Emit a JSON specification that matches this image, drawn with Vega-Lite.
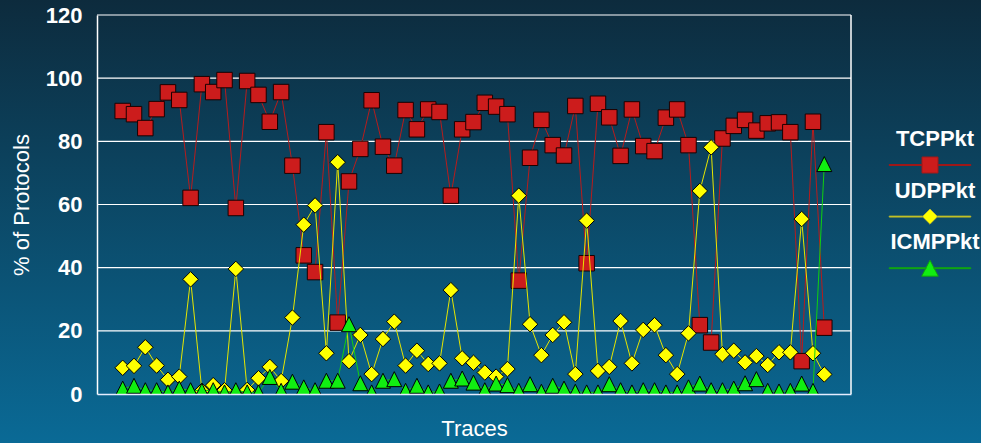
{
  "$schema": "https://vega.github.io/schema/vega-lite/v6.json",
  "width": 754,
  "height": 379,
  "autosize": {"type": "none"},
  "padding": {"left": 97, "top": 15, "right": 130, "bottom": 49},
  "background": "#0b4a6a",
  "config": {
    "font": "Liberation Sans",
    "view": {"stroke": null, "fill": null},
    "axisX": {"labels": false, "ticks": false, "grid": false, "domain": true, "domainColor": "#e6ecff", "domainWidth": 1.5,
      "titleColor": "#ffffff", "titleFont": "Liberation Sans", "titleFontSize": 22, "titleFontWeight": "normal", "titlePadding": 24},
    "axisY": {"grid": false, "ticks": false, "tickSize": 0, "domain": true, "domainColor": "#ffffff", "domainWidth": 1.5, "labelOverlap": false, "labelFlush": false,
      "labelColor": "#ffffff", "labelFont": "Liberation Sans", "labelFontSize": 22, "labelFontWeight": "bold", "labelPadding": 15,
      "titleColor": "#ffffff", "titleFont": "Liberation Sans", "titleFontSize": 22, "titleFontWeight": "normal", "titlePadding": 12}
  },
  "datasets": {
    "protocols": [
      {"trace":1,"series":"TCPPkt","pct":89.6},{"trace":2,"series":"TCPPkt","pct":88.6},{"trace":3,"series":"TCPPkt","pct":84.2},{"trace":4,"series":"TCPPkt","pct":90.2},{"trace":5,"series":"TCPPkt","pct":95.5},{"trace":6,"series":"TCPPkt","pct":93.1},{"trace":7,"series":"TCPPkt","pct":62.1},{"trace":8,"series":"TCPPkt","pct":98.1},{"trace":9,"series":"TCPPkt","pct":95.6},{"trace":10,"series":"TCPPkt","pct":99.4},
      {"trace":11,"series":"TCPPkt","pct":58.9},{"trace":12,"series":"TCPPkt","pct":99.1},{"trace":13,"series":"TCPPkt","pct":94.7},{"trace":14,"series":"TCPPkt","pct":86.2},{"trace":15,"series":"TCPPkt","pct":95.6},{"trace":16,"series":"TCPPkt","pct":72.3},{"trace":17,"series":"TCPPkt","pct":43.9},{"trace":18,"series":"TCPPkt","pct":38.6},{"trace":19,"series":"TCPPkt","pct":82.9},{"trace":20,"series":"TCPPkt","pct":22.6},
      {"trace":21,"series":"TCPPkt","pct":67.3},{"trace":22,"series":"TCPPkt","pct":77.6},{"trace":23,"series":"TCPPkt","pct":93.0},{"trace":24,"series":"TCPPkt","pct":78.3},{"trace":25,"series":"TCPPkt","pct":72.3},{"trace":26,"series":"TCPPkt","pct":89.9},{"trace":27,"series":"TCPPkt","pct":83.8},{"trace":28,"series":"TCPPkt","pct":90.1},{"trace":29,"series":"TCPPkt","pct":89.3},{"trace":30,"series":"TCPPkt","pct":62.8},
      {"trace":31,"series":"TCPPkt","pct":83.8},{"trace":32,"series":"TCPPkt","pct":86.1},{"trace":33,"series":"TCPPkt","pct":92.2},{"trace":34,"series":"TCPPkt","pct":91.0},{"trace":35,"series":"TCPPkt","pct":88.6},{"trace":36,"series":"TCPPkt","pct":35.9},{"trace":37,"series":"TCPPkt","pct":74.8},{"trace":38,"series":"TCPPkt","pct":86.8},{"trace":39,"series":"TCPPkt","pct":78.8},{"trace":40,"series":"TCPPkt","pct":75.5},
      {"trace":41,"series":"TCPPkt","pct":91.2},{"trace":42,"series":"TCPPkt","pct":41.4},{"trace":43,"series":"TCPPkt","pct":91.9},{"trace":44,"series":"TCPPkt","pct":87.6},{"trace":45,"series":"TCPPkt","pct":75.4},{"trace":46,"series":"TCPPkt","pct":90.1},{"trace":47,"series":"TCPPkt","pct":78.5},{"trace":48,"series":"TCPPkt","pct":76.9},{"trace":49,"series":"TCPPkt","pct":87.5},{"trace":50,"series":"TCPPkt","pct":90.1},
      {"trace":51,"series":"TCPPkt","pct":78.8},{"trace":52,"series":"TCPPkt","pct":21.8},{"trace":53,"series":"TCPPkt","pct":16.3},{"trace":54,"series":"TCPPkt","pct":80.9},{"trace":55,"series":"TCPPkt","pct":84.9},{"trace":56,"series":"TCPPkt","pct":86.8},{"trace":57,"series":"TCPPkt","pct":83.4},{"trace":58,"series":"TCPPkt","pct":85.7},{"trace":59,"series":"TCPPkt","pct":86.0},{"trace":60,"series":"TCPPkt","pct":82.9},
      {"trace":61,"series":"TCPPkt","pct":10.4},{"trace":62,"series":"TCPPkt","pct":86.2},{"trace":63,"series":"TCPPkt","pct":21.0},
      {"trace":1,"series":"UDPPkt","pct":8.3},{"trace":2,"series":"UDPPkt","pct":8.9},{"trace":3,"series":"UDPPkt","pct":14.8},{"trace":4,"series":"UDPPkt","pct":9.0},{"trace":5,"series":"UDPPkt","pct":4.5},{"trace":6,"series":"UDPPkt","pct":5.5},{"trace":7,"series":"UDPPkt","pct":36.3},{"trace":8,"series":"UDPPkt","pct":1.0},{"trace":9,"series":"UDPPkt","pct":2.8},{"trace":10,"series":"UDPPkt","pct":1.2},
      {"trace":11,"series":"UDPPkt","pct":39.6},{"trace":12,"series":"UDPPkt","pct":1.3},{"trace":13,"series":"UDPPkt","pct":5.0},{"trace":14,"series":"UDPPkt","pct":8.6},{"trace":15,"series":"UDPPkt","pct":4.1},{"trace":16,"series":"UDPPkt","pct":24.2},{"trace":17,"series":"UDPPkt","pct":53.6},{"trace":18,"series":"UDPPkt","pct":59.7},{"trace":19,"series":"UDPPkt","pct":12.9},{"trace":20,"series":"UDPPkt","pct":73.4},
      {"trace":21,"series":"UDPPkt","pct":10.4},{"trace":22,"series":"UDPPkt","pct":18.7},{"trace":23,"series":"UDPPkt","pct":6.3},{"trace":24,"series":"UDPPkt","pct":17.4},{"trace":25,"series":"UDPPkt","pct":22.9},{"trace":26,"series":"UDPPkt","pct":9.0},{"trace":27,"series":"UDPPkt","pct":13.7},{"trace":28,"series":"UDPPkt","pct":9.5},{"trace":29,"series":"UDPPkt","pct":9.7},{"trace":30,"series":"UDPPkt","pct":32.9},
      {"trace":31,"series":"UDPPkt","pct":11.3},{"trace":32,"series":"UDPPkt","pct":9.9},{"trace":33,"series":"UDPPkt","pct":6.8},{"trace":34,"series":"UDPPkt","pct":5.5},{"trace":35,"series":"UDPPkt","pct":7.9},{"trace":36,"series":"UDPPkt","pct":62.8},{"trace":37,"series":"UDPPkt","pct":22.1},{"trace":38,"series":"UDPPkt","pct":12.3},{"trace":39,"series":"UDPPkt","pct":18.7},{"trace":40,"series":"UDPPkt","pct":22.7},
      {"trace":41,"series":"UDPPkt","pct":6.3},{"trace":42,"series":"UDPPkt","pct":54.9},{"trace":43,"series":"UDPPkt","pct":7.3},{"trace":44,"series":"UDPPkt","pct":8.6},{"trace":45,"series":"UDPPkt","pct":23.1},{"trace":46,"series":"UDPPkt","pct":9.7},{"trace":47,"series":"UDPPkt","pct":20.3},{"trace":48,"series":"UDPPkt","pct":21.8},{"trace":49,"series":"UDPPkt","pct":12.3},{"trace":50,"series":"UDPPkt","pct":6.3},
      {"trace":51,"series":"UDPPkt","pct":19.2},{"trace":52,"series":"UDPPkt","pct":64.3},{"trace":53,"series":"UDPPkt","pct":78.1},{"trace":54,"series":"UDPPkt","pct":12.6},{"trace":55,"series":"UDPPkt","pct":13.7},{"trace":56,"series":"UDPPkt","pct":10.0},{"trace":57,"series":"UDPPkt","pct":12.0},{"trace":58,"series":"UDPPkt","pct":9.2},{"trace":59,"series":"UDPPkt","pct":13.2},{"trace":60,"series":"UDPPkt","pct":13.2},
      {"trace":61,"series":"UDPPkt","pct":55.4},{"trace":62,"series":"UDPPkt","pct":12.9},{"trace":63,"series":"UDPPkt","pct":6.2},
      {"trace":1,"series":"ICMPPkt","pct":1.7},{"trace":2,"series":"ICMPPkt","pct":2.6},{"trace":3,"series":"ICMPPkt","pct":1.2},{"trace":4,"series":"ICMPPkt","pct":1.2},{"trace":5,"series":"ICMPPkt","pct":0.5},{"trace":6,"series":"ICMPPkt","pct":1.7},{"trace":7,"series":"ICMPPkt","pct":1.2},{"trace":8,"series":"ICMPPkt","pct":1.0},{"trace":9,"series":"ICMPPkt","pct":1.2},{"trace":10,"series":"ICMPPkt","pct":0.5},
      {"trace":11,"series":"ICMPPkt","pct":1.2},{"trace":12,"series":"ICMPPkt","pct":0.5},{"trace":13,"series":"ICMPPkt","pct":0.5},{"trace":14,"series":"ICMPPkt","pct":5.4},{"trace":15,"series":"ICMPPkt","pct":1.0},{"trace":16,"series":"ICMPPkt","pct":3.9},{"trace":17,"series":"ICMPPkt","pct":2.1},{"trace":18,"series":"ICMPPkt","pct":1.2},{"trace":19,"series":"ICMPPkt","pct":4.2},{"trace":20,"series":"ICMPPkt","pct":4.2},
      {"trace":21,"series":"ICMPPkt","pct":22.1},{"trace":22,"series":"ICMPPkt","pct":3.4},{"trace":23,"series":"ICMPPkt","pct":0.5},{"trace":24,"series":"ICMPPkt","pct":4.2},{"trace":25,"series":"ICMPPkt","pct":4.7},{"trace":26,"series":"ICMPPkt","pct":1.0},{"trace":27,"series":"ICMPPkt","pct":2.6},{"trace":28,"series":"ICMPPkt","pct":0.5},{"trace":29,"series":"ICMPPkt","pct":0.8},{"trace":30,"series":"ICMPPkt","pct":4.2},
      {"trace":31,"series":"ICMPPkt","pct":4.9},{"trace":32,"series":"ICMPPkt","pct":3.6},{"trace":33,"series":"ICMPPkt","pct":1.2},{"trace":34,"series":"ICMPPkt","pct":3.3},{"trace":35,"series":"ICMPPkt","pct":2.8},{"trace":36,"series":"ICMPPkt","pct":1.0},{"trace":37,"series":"ICMPPkt","pct":3.1},{"trace":38,"series":"ICMPPkt","pct":0.7},{"trace":39,"series":"ICMPPkt","pct":2.6},{"trace":40,"series":"ICMPPkt","pct":1.7},
      {"trace":41,"series":"ICMPPkt","pct":0.7},{"trace":42,"series":"ICMPPkt","pct":0.5},{"trace":43,"series":"ICMPPkt","pct":0.5},{"trace":44,"series":"ICMPPkt","pct":3.1},{"trace":45,"series":"ICMPPkt","pct":1.2},{"trace":46,"series":"ICMPPkt","pct":0.5},{"trace":47,"series":"ICMPPkt","pct":1.2},{"trace":48,"series":"ICMPPkt","pct":1.2},{"trace":49,"series":"ICMPPkt","pct":0.5},{"trace":50,"series":"ICMPPkt","pct":0.5},
      {"trace":51,"series":"ICMPPkt","pct":2.1},{"trace":52,"series":"ICMPPkt","pct":3.3},{"trace":53,"series":"ICMPPkt","pct":1.2},{"trace":54,"series":"ICMPPkt","pct":1.2},{"trace":55,"series":"ICMPPkt","pct":1.7},{"trace":56,"series":"ICMPPkt","pct":3.4},{"trace":57,"series":"ICMPPkt","pct":4.7},{"trace":58,"series":"ICMPPkt","pct":1.0},{"trace":59,"series":"ICMPPkt","pct":0.8},{"trace":60,"series":"ICMPPkt","pct":1.0},
      {"trace":61,"series":"ICMPPkt","pct":3.3},{"trace":62,"series":"ICMPPkt","pct":1.0},{"trace":63,"series":"ICMPPkt","pct":72.8}
    ]
  },
  "layer": [
    {
      "data": {"values": [{}]},
      "mark": {
        "type": "rect",
        "fill": {"gradient": "linear", "x1": 0, "y1": 0, "x2": 0, "y2": 1,
          "stops": [{"offset": 0, "color": "#0d2b3d"}, {"offset": 1, "color": "#0a6a96"}]}
      },
      "encoding": {
        "x": {"datum": -9.9, "type": "quantitative", "title": "Traces", "scale": {"domain": [-1.27, 65.36], "nice": false, "zero": false}, "axis": {"zindex": 1}},
        "x2": {"datum": 77},
        "y": {"datum": 124.8, "type": "quantitative", "title": "% of Protocols", "scale": {"domain": [0, 120], "nice": false}, "axis": {"values": [0, 20, 40, 60, 80, 100, 120], "zindex": 1}},
        "y2": {"datum": -15.6}
      }
    },
    {
      "data": {"values": [{"tick": 20}, {"tick": 40}, {"tick": 60}, {"tick": 80}, {"tick": 100}, {"tick": 120}]},
      "mark": {"type": "rule", "color": "#ffffff", "strokeWidth": 1.2},
      "encoding": {
        "y": {"field": "tick", "type": "quantitative", "title": "% of Protocols", "scale": {"domain": [0, 120], "nice": false}, "axis": {"values": [0, 20, 40, 60, 80, 100, 120], "zindex": 1}}
      }
    },
    {
      "data": {"values": [{}]},
      "mark": {"type": "rule", "color": "#ffffff", "strokeWidth": 1.5},
      "encoding": {
        "x": {"datum": 65.36, "type": "quantitative", "title": "Traces", "scale": {"domain": [-1.27, 65.36], "nice": false, "zero": false}, "axis": {"zindex": 1}}
      }
    },
    {
      "data": {"name": "protocols"},
      "encoding": {
        "x": {"field": "trace", "type": "quantitative", "title": "Traces", "scale": {"domain": [-1.27, 65.36], "nice": false, "zero": false}, "axis": {"zindex": 1}},
        "y": {"field": "pct", "type": "quantitative", "title": "% of Protocols", "scale": {"domain": [0, 120], "nice": false}, "axis": {"values": [0, 20, 40, 60, 80, 100, 120], "zindex": 1}},
        "color": {"field": "series", "type": "nominal",
          "scale": {"domain": ["TCPPkt", "UDPPkt", "ICMPPkt"], "range": ["#cc1c1c", "#ffff00", "#11ee11"]},
          "legend": {"orient": "none", "legendX": 822, "legendY": 139, "title": null, "padding": 0, "symbolSize": 256,
            "labelFont": "Liberation Sans", "labelFontSize": 22, "labelFontWeight": "bold", "labelColor": "#ffffff",
            "labelAlign": "center", "labelBaseline": "alphabetic", "labelOffset": -6, "labelLimit": 400, "rowPadding": 4.6, "zindex": 1,
            "encoding": {
              "labels": {"dy": {"value": -19}},
              "symbols": {
                "shape": {"value": {"expr": "datum.value === 'TCPPkt' ? 'M-5.1,-0.06H-1V0.06H-5.1ZM1,-0.06H5.1V0.06H1ZM-1,-1H1V1H-1Z' : datum.value === 'UDPPkt' ? 'M-5.1,-0.06H-0.9V0.06H-5.1ZM0.9,-0.06H5.1V0.06H0.9ZM0,-0.95L0.95,0L0,0.95L-0.95,0Z' : 'M-5.1,-0.06H-0.5V0.06H-5.1ZM0.5,-0.06H5.1V0.06H0.5ZM0,-1L1.04,1L-1.04,1Z'"}},
                "stroke": {"value": {"expr": "datum.value === 'TCPPkt' ? '#a01818' : datum.value === 'UDPPkt' ? '#b0b030' : '#10a010'"}},
                "strokeWidth": {"value": 1},
                "opacity": {"value": 1}
              }
            }
          }
        }
      },
      "layer": [
        {
          "transform": [{"filter": "datum.series === 'TCPPkt'"}],
          "mark": {"type": "line", "stroke": "#b81c1c", "strokeWidth": 1, "clip": true},
          "encoding": {"color": null}
        },
        {
          "transform": [{"filter": "datum.series === 'TCPPkt'"}],
          "mark": {"type": "point", "shape": "square", "filled": true, "opacity": 1, "stroke": "#1a0000", "strokeWidth": 1, "size": 240, "clip": true}
        },
        {
          "transform": [{"filter": "datum.series === 'UDPPkt'"}],
          "mark": {"type": "line", "stroke": "#e6e600", "strokeWidth": 1, "clip": true},
          "encoding": {"color": null}
        },
        {
          "transform": [{"filter": "datum.series === 'UDPPkt'"}],
          "mark": {"type": "point", "shape": "diamond", "filled": true, "opacity": 1, "stroke": "#000000", "strokeWidth": 1, "size": 240, "clip": true}
        },
        {
          "transform": [{"filter": "datum.series === 'ICMPPkt'"}],
          "mark": {"type": "line", "stroke": "#10d010", "strokeWidth": 1, "clip": true},
          "encoding": {"color": null}
        },
        {
          "transform": [{"filter": "datum.series === 'ICMPPkt'"}],
          "mark": {"type": "point", "shape": "M0,-1L1,1L-1,1Z", "filled": true, "opacity": 1, "stroke": "#000000", "strokeWidth": 1, "size": 225, "clip": true}
        }
      ]
    }
  ]
}
